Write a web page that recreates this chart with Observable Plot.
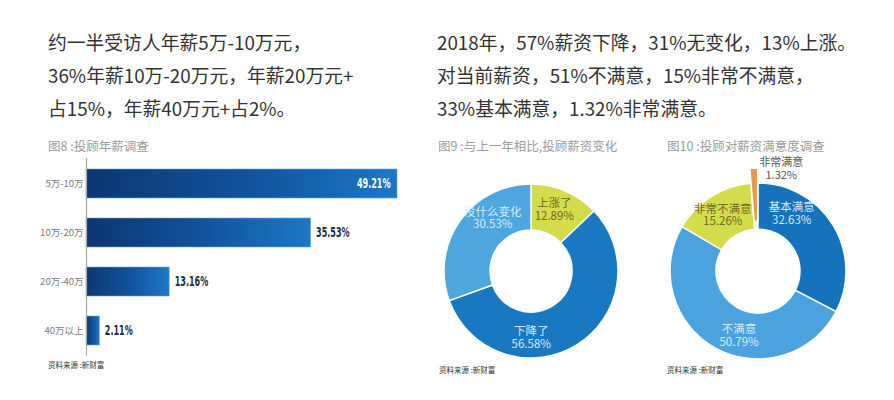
<!DOCTYPE html>
<html><head><meta charset="utf-8">
<script src="https://cdn.jsdelivr.net/npm/d3@7"></script>
<script src="https://cdn.jsdelivr.net/npm/@observablehq/plot@0.6"></script>
<style>
body{margin:0;background:#fff;font-family:"Noto Sans CJK SC","Noto Sans",sans-serif;}
#root{position:relative;width:894px;height:400px;overflow:hidden;background:#fff;}
.hd{position:absolute;top:25px;font-size:18.8px;color:#333;line-height:33px;white-space:nowrap;}
.ttl{position:absolute;top:136px;font-size:12.5px;color:#9b9b9b;white-space:nowrap;line-height:20px;}
.src{position:absolute;font-size:7.5px;color:#333;white-space:nowrap;line-height:10px;}
.plot{position:absolute;}
</style></head><body><div id="root">
<div class="hd" style="left:48px">约一半受访人年薪5万-10万元，<br>36%年薪10万-20万元，年薪20万元+<br>占15%，年薪40万元+占2%。</div>
<div class="hd" style="left:437px">2018年，57%薪资下降，31%无变化，13%上涨。<br>对当前薪资，51%不满意，15%非常不满意，<br>33%基本满意，1.32%非常满意。</div>
<div class="ttl" style="left:48px">图8 :投顾年薪调查</div>
<div class="ttl" style="left:438px">图9 :与上一年相比,投顾薪资变化</div>
<div class="ttl" style="left:667px">图10 :投顾对薪资满意度调查</div>
<div class="src" style="left:48px;top:360px">资料来源 :新财富</div>
<div class="src" style="left:439px;top:365px">资料来源 :新财富</div>
<div class="src" style="left:667px;top:365px">资料来源 :新财富</div>
<div class="plot" id="bars" style="left:0;top:150px"></div>
<div class="plot" id="d1" style="left:421px;top:146px"></div>
<div class="plot" id="d2" style="left:648px;top:146px"></div>
</div>
<script>
// ---- data ----
const salaryCats = ["5万-10万", "10万-20万", "20万-40万", "40万以上"];
const salaryPct = [49.21, 35.53, 13.16, 2.11];

const changeCats = ["上涨了", "下降了", "没什么变化"];
const changePct = [12.89, 56.58, 30.53];

const satisCats = ["基本满意", "不满意", "非常不满意", "非常满意"];
const satisPct = [32.63, 50.79, 15.26, 1.32];

const fontCJK = '"Noto Sans CJK SC","Noto Sans",sans-serif';
const fontNarrow = '"DejaVu Sans Condensed","Liberation Sans Narrow","DejaVu Sans",sans-serif';

// ---- bar chart ----
const barData = salaryCats.map((c, i) => ({c, v: salaryPct[i]}));
const fmt = v => v.toFixed(2) + "%";
const bars = Plot.plot({
  width: 420, height: 214,
  marginLeft: 86, marginRight: 18, marginTop: 8, marginBottom: 8,
  style: {fontFamily: fontCJK, fontSize: "9.5px", color: "#7a7a7a", background: "transparent"},
  x: {domain: [0, 50], axis: null},
  y: {domain: salaryCats, paddingInner: 0.416, paddingOuter: 0.2, label: null, tickSize: 0, tickPadding: 3},
  marks: [
    Plot.barX(barData, {x: "v", y: "c", fill: "url(#barGrad)", stroke: "#6aa6dc", strokeWidth: 0.6}),
    Plot.ruleX([0], {stroke: "#a8a8a8", strokeWidth: 1.2}),
    Plot.text(barData.filter(d => d.v > 40), {x: "v", y: "c", text: d => fmt(d.v), textAnchor: "end", dx: -7,
      fill: "#ffffff", fontWeight: "bold", fontSize: 14, fontFamily: fontNarrow}),
    Plot.text(barData.filter(d => d.v <= 40), {x: "v", y: "c", text: d => fmt(d.v), textAnchor: "start", dx: 5,
      fill: "#1d2b4b", fontWeight: "bold", fontSize: 14, fontFamily: fontNarrow})
  ]
});
const defs = document.createElementNS("http://www.w3.org/2000/svg", "defs");
defs.innerHTML = `<linearGradient id="barGrad" x1="0" x2="1" y1="0" y2="0">
  <stop offset="0" stop-color="#0c3672"/><stop offset="0.55" stop-color="#11559e"/><stop offset="1" stop-color="#1c78c6"/></linearGradient>`;
bars.insertBefore(defs, bars.firstChild);
// condense the value labels horizontally (scale about each text's anchor point)
bars.querySelectorAll('g[font-weight="bold"] text').forEach(t => {
  const tr = t.getAttribute("transform");
  if (tr) t.setAttribute("transform", `${tr} scale(0.64,1)`);
});
document.getElementById("bars").append(bars);

// ---- donuts ----
const deg = Math.PI / 180;
function donut(cats, vals, colors, textColors, rOut, rIn, labelShift, smallOutside) {
  const data = cats.map((c, i) => ({c, v: vals[i], i}));
  const pie = d3.pie().value(d => d.v).sort(null)(data);
  const rMid = (rOut + rIn) / 2;
  const isSmall = d => smallOutside && d.v < 5;
  const labels = pie.map(p => {
    const a = (p.startAngle + p.endAngle) / 2 + (labelShift[p.data.i] || 0) * deg;
    const outside = isSmall(p.data);
    const r = outside ? rOut + 15 : rMid + 2;
    return {x: r * Math.sin(a), y: r * Math.cos(a), text: p.data.c + "\n" + p.data.v.toFixed(2) + "%",
            fill: textColors[p.data.i], outside};
  });
  const arcsMark = (index, scales) => {
    const cx = scales.x(0), cy = scales.y(0), k = scales.x(1) - scales.x(0);
    const arc = d3.arc().innerRadius(rIn * k).outerRadius(d => (isSmall(d.data) ? rOut + 7 : rOut) * k);
    const g = d3.create("svg:g").attr("transform", `translate(${cx},${cy})`);
    g.selectAll("path").data(pie).join("path")
      .attr("d", arc)
      .attr("fill", d => colors[d.data.i])
      .attr("stroke", "#ffffff").attr("stroke-width", 1.5)
      .attr("transform", d => {
        if (!isSmall(d.data)) return null;
        const a = (d.startAngle + d.endAngle) / 2, e = 8 * k;
        return `translate(${e * Math.sin(a)},${-e * Math.cos(a)})`;
      });
    return g.node();
  };
  return Plot.plot({
    width: 220, height: 240, margin: 0,
    style: {fontFamily: fontCJK, background: "transparent"},
    x: {domain: [-110, 110], axis: null},
    y: {domain: [-115, 125], axis: null},
    marks: [
      arcsMark,
      Plot.text(labels.filter(d => !d.outside), {x: "x", y: "y", text: "text", fill: "fill", fontSize: 11.5, lineHeight: 1.1}),
      Plot.text(labels.filter(d => d.outside), {x: "x", y: "y", text: "text", fill: "fill", fontSize: 11, lineHeight: 1.1, dx: 27})
    ]
  });
}

document.getElementById("d1").append(donut(changeCats, changePct,
  ["#d5dc4b", "#1879c2", "#4ea6de"],
  ["#6b6a1f", "#d3e9f8", "#d9edf9"], 87, 41, [-3, 32, 19], false));
document.getElementById("d2").append(donut(satisCats, satisPct,
  ["#1573bd", "#4aa3de", "#d5dc4b", "#e59a4c"],
  ["#d6ebf8", "#d9edf9", "#6b6a1f", "#555555"], 88, 42, [-29, -12, 0, 0], true));
</script>
</body></html>
